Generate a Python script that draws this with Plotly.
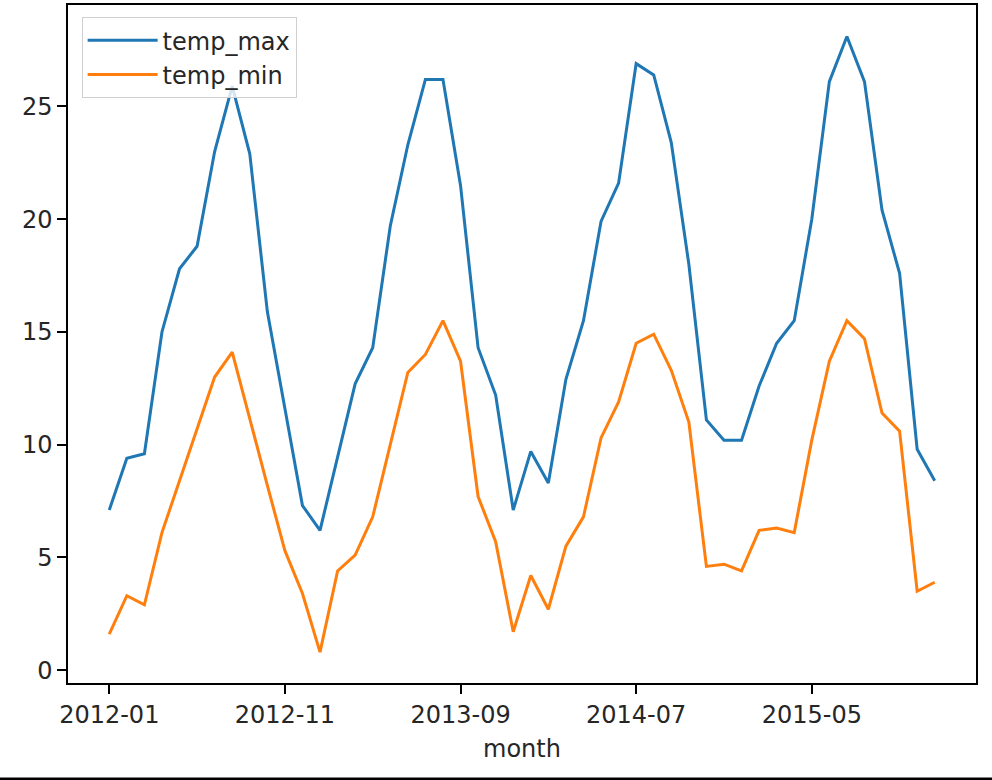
import plotly.graph_objects as go
import pandas as pd

# monthly averages, Jan 2012 - Dec 2015
months = [p.strftime("%Y-%m") for p in pd.period_range("2012-01", "2015-12", freq="M")]

temp_max = [7.1, 9.4, 9.6, 15.0, 17.8, 18.8, 23.0, 25.9, 22.9, 15.9, 11.6, 7.3,
            6.2, 9.5, 12.7, 14.3, 19.7, 23.3, 26.2, 26.2, 21.5, 14.3, 12.2, 7.1,
            9.7, 8.3, 12.9, 15.5, 19.9, 21.6, 26.9, 26.4, 23.4, 18.0, 11.1, 10.2,
            10.2, 12.6, 14.5, 15.5, 20.0, 26.1, 28.1, 26.1, 20.4, 17.6, 9.8, 8.4]

temp_min = [1.6, 3.3, 2.9, 6.1, 8.4, 10.7, 13.0, 14.1, 11.1, 8.2, 5.3, 3.4,
            0.8, 4.4, 5.1, 6.8, 10.0, 13.2, 14.0, 15.5, 13.7, 7.7, 5.7, 1.7,
            4.2, 2.7, 5.5, 6.8, 10.3, 11.9, 14.5, 14.9, 13.3, 11.0, 4.6, 4.7,
            4.4, 6.2, 6.3, 6.1, 10.2, 13.7, 15.5, 14.7, 11.4, 10.6, 3.5, 3.9]

xticks = ["2012-01", "2012-11", "2013-09", "2014-07", "2015-05"]
yticks = [0, 5, 10, 15, 20, 25]

fig = go.Figure()
fig.add_trace(go.Scatter(x=months, y=temp_max, mode="lines", name="temp_max",
                         line=dict(color="#1f77b4", width=3)))
fig.add_trace(go.Scatter(x=months, y=temp_min, mode="lines", name="temp_min",
                         line=dict(color="#ff7f0e", width=3)))

axis_style = dict(showline=True, linecolor="black", linewidth=1.5, mirror=True,
                  ticks="outside", ticklen=9, tickwidth=1.5, tickcolor="black",
                  showgrid=False, zeroline=False, automargin=False)

fig.update_xaxes(type="category", range=[-2.35, 49.35], tickvals=xticks,
                 title=dict(text="month", standoff=13, font=dict(size=24)), **axis_style)
fig.update_yaxes(range=[-0.57, 29.5], tickvals=yticks, **axis_style)

fig.update_layout(
    width=992, height=780,
    margin=dict(l=68, r=16, t=5, b=97),
    paper_bgcolor="white", plot_bgcolor="white",
    font=dict(family="DejaVu Sans", size=24, color="#262626"),
    showlegend=True,
    legend=dict(x=0.015, y=0.982, xanchor="left", yanchor="top",
                bgcolor="rgba(255,255,255,0.8)", bordercolor="#d0d0d0", borderwidth=1,
                font=dict(size=24), itemwidth=70, tracegroupgap=0),
)

# dark strip along the bottom edge of the picture
fig.add_shape(type="line", xref="paper", yref="paper", x0=-0.08, x1=1.02, y0=-0.143, y1=-0.143,
              line=dict(color="black", width=5))

fig.write_html("out.html", config={"displayModeBar": False},
               post_script="document.body.style.margin='0';")
